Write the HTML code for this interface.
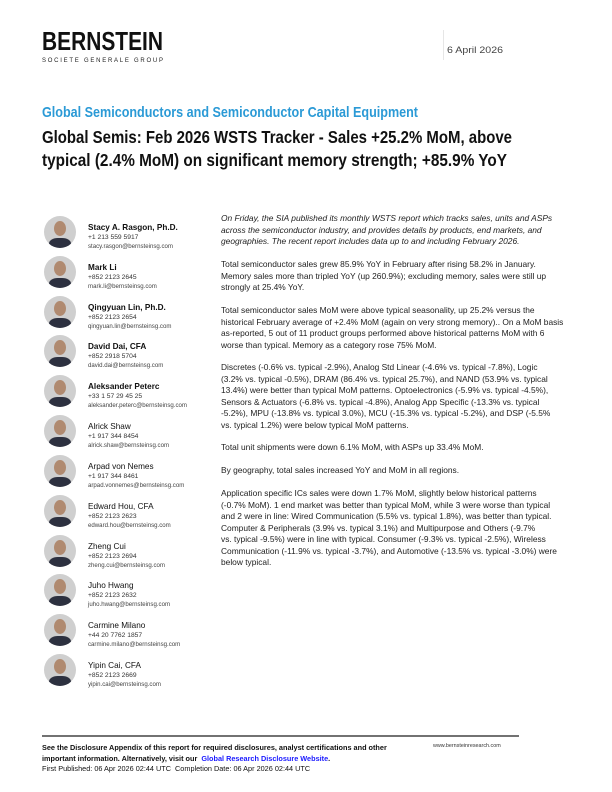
<!DOCTYPE html>
<html><head><meta charset="utf-8"><style>
body{margin:0;background:#fff;}
#p{position:relative;width:612px;height:792px;overflow:hidden;font-family:"Liberation Sans",sans-serif;color:#1a1a1a;}
.b{position:absolute;left:221px;font-size:8.4px;line-height:11.5px;white-space:nowrap;color:#222;}
.a{position:absolute;left:88px;white-space:nowrap;}
.a .n{font-size:8.2px;line-height:10px;color:#111;}
.a .t{font-size:6.7px;line-height:9px;color:#333;}
.a .e{font-size:6.1px;line-height:9px;color:#444;}
.ph{position:absolute;left:44px;width:32px;height:32px;border-radius:50%;background:#cfcfcf;overflow:hidden;}
.ph:before{content:"";position:absolute;left:10px;top:5px;width:12px;height:15px;border-radius:50%;background:#b08a70;}
.ph:after{content:"";position:absolute;left:5px;top:22px;width:22px;height:14px;border-radius:40% 40% 0 0;background:#2d3140;}
</style></head><body><div id="p">
<svg width="612" height="792" style="position:absolute;left:0;top:0">
<text x="42" y="50" font-family="Liberation Sans" font-weight="bold" font-size="26" textLength="121" lengthAdjust="spacingAndGlyphs" fill="#111">BERNSTEIN</text>
<text x="42" y="62" font-family="Liberation Sans" font-size="6" textLength="121" lengthAdjust="spacing" fill="#222">SOCIETE GENERALE GROUP</text>
<line x1="443.5" y1="30" x2="443.5" y2="60" stroke="#e6e6e6" stroke-width="1"/>
<text x="447" y="53" font-family="Liberation Sans" font-size="9.5" textLength="56" lengthAdjust="spacingAndGlyphs" fill="#444">6 April 2026</text>
<text x="42" y="117" font-family="Liberation Sans" font-weight="bold" font-size="15" textLength="376" lengthAdjust="spacingAndGlyphs" fill="#2b9ad6">Global Semiconductors and Semiconductor Capital Equipment</text>
<text x="42" y="143" font-family="Liberation Sans" font-weight="bold" font-size="17.5" textLength="470" lengthAdjust="spacingAndGlyphs" fill="#111">Global Semis: Feb 2026 WSTS Tracker - Sales +25.2% MoM, above</text>
<text x="42" y="166" font-family="Liberation Sans" font-weight="bold" font-size="17.5" textLength="465" lengthAdjust="spacingAndGlyphs" fill="#111">typical (2.4% MoM) on significant memory strength; +85.9% YoY</text>
<line x1="42" y1="736" x2="519" y2="736" stroke="#444" stroke-width="1.5"/>
</svg>

<div class="ph" style="top:216px"></div><div class="a" style="top:223px"><div class="n" style="font-weight:bold">Stacy A. Rasgon, Ph.D.</div><div class="t">+1 213 559 5917</div><div class="e">stacy.rasgon@bernsteinsg.com</div></div>
<div class="ph" style="top:256px"></div><div class="a" style="top:263px"><div class="n" style="font-weight:bold">Mark Li</div><div class="t">+852 2123 2645</div><div class="e">mark.li@bernsteinsg.com</div></div>
<div class="ph" style="top:296px"></div><div class="a" style="top:303px"><div class="n" style="font-weight:bold">Qingyuan Lin, Ph.D.</div><div class="t">+852 2123 2654</div><div class="e">qingyuan.lin@bernsteinsg.com</div></div>
<div class="ph" style="top:335px"></div><div class="a" style="top:342px"><div class="n" style="font-weight:bold">David Dai, CFA</div><div class="t">+852 2918 5704</div><div class="e">david.dai@bernsteinsg.com</div></div>
<div class="ph" style="top:375px"></div><div class="a" style="top:382px"><div class="n" style="font-weight:bold">Aleksander Peterc</div><div class="t">+33 1 57 29 45 25</div><div class="e">aleksander.peterc@bernsteinsg.com</div></div>
<div class="ph" style="top:415px"></div><div class="a" style="top:422px"><div class="n">Alrick Shaw</div><div class="t">+1 917 344 8454</div><div class="e">alrick.shaw@bernsteinsg.com</div></div>
<div class="ph" style="top:455px"></div><div class="a" style="top:462px"><div class="n">Arpad von Nemes</div><div class="t">+1 917 344 8461</div><div class="e">arpad.vonnemes@bernsteinsg.com</div></div>
<div class="ph" style="top:495px"></div><div class="a" style="top:502px"><div class="n">Edward Hou, CFA</div><div class="t">+852 2123 2623</div><div class="e">edward.hou@bernsteinsg.com</div></div>
<div class="ph" style="top:535px"></div><div class="a" style="top:542px"><div class="n">Zheng Cui</div><div class="t">+852 2123 2694</div><div class="e">zheng.cui@bernsteinsg.com</div></div>
<div class="ph" style="top:574px"></div><div class="a" style="top:581px"><div class="n">Juho Hwang</div><div class="t">+852 2123 2632</div><div class="e">juho.hwang@bernsteinsg.com</div></div>
<div class="ph" style="top:614px"></div><div class="a" style="top:621px"><div class="n">Carmine Milano</div><div class="t">+44 20 7762 1857</div><div class="e">carmine.milano@bernsteinsg.com</div></div>
<div class="ph" style="top:654px"></div><div class="a" style="top:661px"><div class="n">Yipin Cai, CFA</div><div class="t">+852 2123 2669</div><div class="e">yipin.cai@bernsteinsg.com</div></div>

<div class="b" style="top:213px;font-style:italic">On Friday, the SIA published its monthly WSTS report which tracks sales, units and ASPs<br>across the semiconductor industry, and provides details by products, end markets, and<br>geographies. The recent report includes data up to and including February 2026.</div>
<div class="b" style="top:259px">Total semiconductor sales grew 85.9% YoY in February after rising 58.2% in January.<br>Memory sales more than tripled YoY (up 260.9%); excluding memory, sales were still up<br>strongly at 25.4% YoY.</div>
<div class="b" style="top:305px">Total semiconductor sales MoM were above typical seasonality, up 25.2% versus the<br>historical February average of +2.4% MoM (again on very strong memory).. On a MoM basis<br>as-reported, 5 out of 11 product groups performed above historical patterns MoM with 6<br>worse than typical. Memory as a category rose 75% MoM.</div>
<div class="b" style="top:362px">Discretes (-0.6% vs. typical -2.9%), Analog Std Linear (-4.6% vs. typical -7.8%), Logic<br>(3.2% vs. typical -0.5%), DRAM (86.4% vs. typical 25.7%), and NAND (53.9% vs. typical<br>13.4%) were better than typical MoM patterns. Optoelectronics (-5.9% vs. typical -4.5%),<br>Sensors &amp; Actuators (-6.8% vs. typical -4.8%), Analog App Specific (-13.3% vs. typical<br>-5.2%), MPU (-13.8% vs. typical 3.0%), MCU (-15.3% vs. typical -5.2%), and DSP (-5.5%<br>vs. typical 1.2%) were below typical MoM patterns.</div>
<div class="b" style="top:442px">Total unit shipments were down 6.1% MoM, with ASPs up 33.4% MoM.</div>
<div class="b" style="top:465px">By geography, total sales increased YoY and MoM in all regions.</div>
<div class="b" style="top:488px">Application specific ICs sales were down 1.7% MoM, slightly below historical patterns<br>(-0.7% MoM). 1 end market was better than typical MoM, while 3 were worse than typical<br>and 2 were in line: Wired Communication (5.5% vs. typical 1.8%), was better than typical.<br>Computer &amp; Peripherals (3.9% vs. typical 3.1%) and Multipurpose and Others (-9.7%<br>vs. typical -9.5%) were in line with typical. Consumer (-9.3% vs. typical -2.5%), Wireless<br>Communication (-11.9% vs. typical -3.7%), and Automotive (-13.5% vs. typical -3.0%) were<br>below typical.</div>

<div style="position:absolute;left:42px;top:743px;font-size:7.3px;line-height:10.5px;white-space:nowrap;color:#111"><b>See the Disclosure Appendix of this report for required disclosures, analyst certifications and other<br>important information. Alternatively, visit our &nbsp;<span style="color:#1a1aff">Global Research Disclosure Website</span>.</b><br>First Published: 06 Apr 2026 02:44 UTC &nbsp;Completion Date: 06 Apr 2026 02:44 UTC</div>
<div style="position:absolute;left:433px;top:743px;font-size:5.4px;color:#333;white-space:nowrap">www.bernsteinresearch.com</div>
</div></body></html>
